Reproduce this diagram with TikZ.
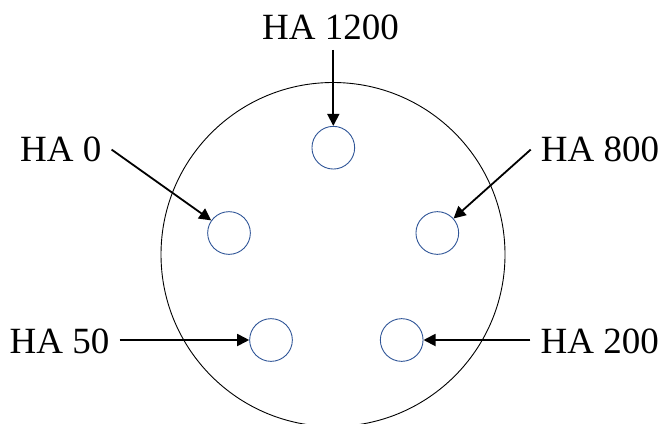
\documentclass[tikz,border=0pt]{standalone}
\usepackage{fontspec}
\setmainfont{Liberation Serif}
\usetikzlibrary{arrows.meta}
\definecolor{holeblue}{RGB}{47,85,151}
\tikzset{
    hole/.style={circle,draw=holeblue,line width=0.9pt,minimum size=42.7pt,inner sep=0pt},
    halabel/.style={anchor=base,inner sep=10pt,font=\fontsize{37}{40}\selectfont},
    feed/.style={line width=1.8pt,-{Triangle[length=12pt,width=12pt]}}
}
\begin{document}
\begin{tikzpicture}[x=1pt,y=-1pt]
        \useasboundingbox (0,0) rectangle (663,423);
        \clip (0,0) rectangle (663,423);
        \node[circle,draw,line width=0.9pt,minimum size=344pt,inner sep=0pt] (plate) at (333,254.5) {};
        \foreach \n/\x/\y in {h1200/333.3/147.7, h0/229/233, h800/437.3/233, h50/271/340, h200/401.7/340}
        {
            \node[hole] (\n) at (\x,\y) {};
        }
        \node[halabel] (l1200) at (330.5,39.3) {HA 1200};
        \node[halabel] (l0) at (60.8,161.7) {HA 0};
        \node[halabel] (l800) at (600,161.7) {HA 800};
        \node[halabel] (l50) at (59.5,353.3) {HA 50};
        \node[halabel] (l200) at (599.7,353.3) {HA 200};
        \draw[feed] (h1200 |- l1200.south) -- (h1200);
        \draw[feed] (l0.east) -- (h0);
        \draw[feed] (l800.west) -- (h800);
        \draw[feed] (h50 -| l50.east) -- (h50);
        \draw[feed] (h200 -| l200.west) -- (h200);
    \end{tikzpicture}
\end{document}
